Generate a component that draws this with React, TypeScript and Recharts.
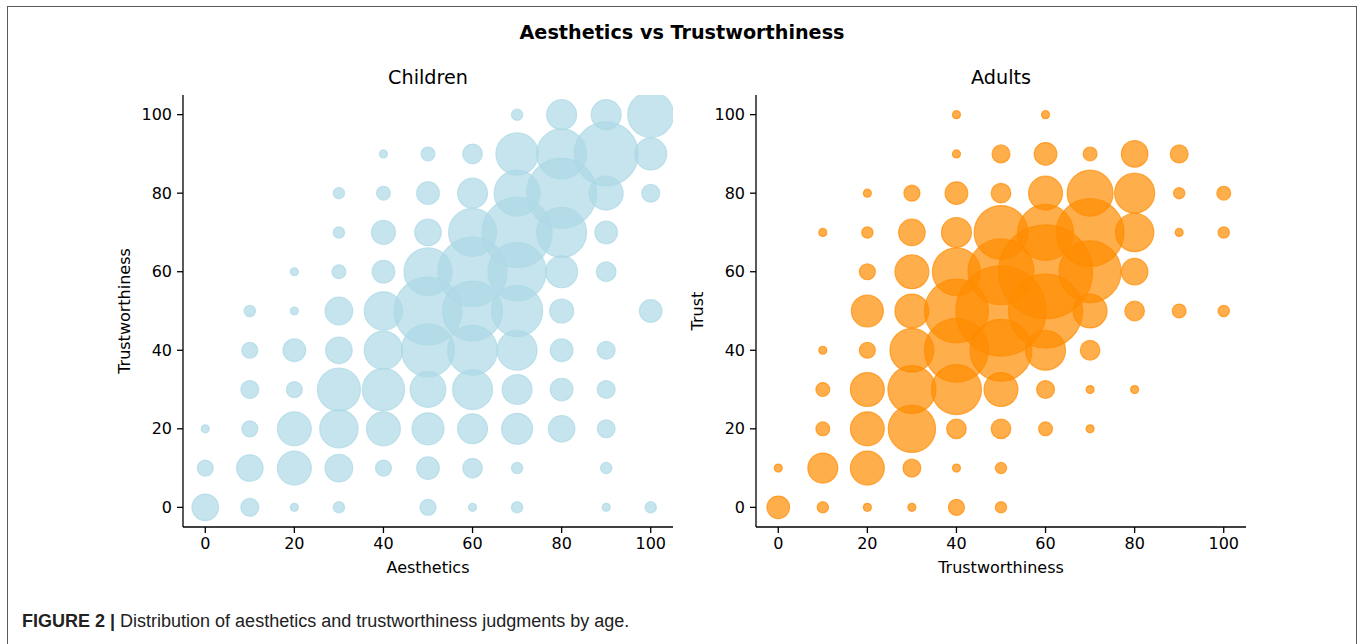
import React from 'react';
import { ScatterChart, Scatter, XAxis, YAxis, ZAxis } from 'recharts';

// Grid levels (0..100 step 10) on both axes
const levels = [0, 10, 20, 30, 40, 50, 60, 70, 80, 90, 100];
const tickValues = [0, 20, 40, 60, 80, 100];
const rowLevels = [100, 90, 80, 70, 60, 50, 40, 30, 20, 10, 0];

// Children: counts per (aesthetics x, trustworthiness y); rows from y=100 down to y=0
const childrenCounts: number[][] = [
  [0, 0, 0, 0, 0, 0, 0, 2, 14, 14, 33],
  [0, 0, 0, 0, 1, 3, 6, 28, 39, 64, 16],
  [0, 0, 0, 2, 3, 8, 14, 33, 77, 18, 5],
  [0, 0, 0, 2, 9, 11, 36, 77, 39, 8, 0],
  [0, 0, 1, 3, 8, 36, 75, 53, 16, 6, 0],
  [0, 2, 1, 12, 23, 72, 56, 41, 9, 0, 8],
  [0, 4, 8, 11, 23, 44, 39, 25, 8, 5, 0],
  [0, 5, 4, 29, 28, 20, 25, 14, 8, 5, 0],
  [1, 4, 18, 23, 18, 16, 14, 15, 11, 5, 0],
  [4, 11, 18, 12, 4, 8, 6, 2, 0, 2, 0],
  [11, 5, 1, 2, 0, 4, 1, 2, 0, 1, 2],
];

// Adults: counts per (trustworthiness x, trust y); rows from y=100 down to y=0
const adultsCounts: number[][] = [
  [0, 0, 0, 0, 1, 0, 1, 0, 0, 0, 0],
  [0, 0, 0, 0, 1, 5, 8, 3, 11, 5, 0],
  [0, 0, 1, 4, 8, 6, 18, 33, 25, 2, 3],
  [0, 1, 2, 11, 14, 45, 49, 72, 23, 1, 2],
  [0, 0, 4, 18, 36, 68, 138, 60, 11, 0, 0],
  [0, 0, 16, 18, 64, 127, 86, 18, 6, 3, 2],
  [0, 1, 4, 30, 64, 60, 25, 6, 0, 0, 0],
  [0, 3, 18, 36, 39, 18, 5, 1, 1, 0, 0],
  [0, 3, 18, 35, 6, 6, 3, 1, 0, 0, 0],
  [1, 14, 18, 5, 1, 2, 0, 0, 0, 0, 0],
  [8, 2, 1, 1, 4, 2, 0, 0, 0, 0, 0],
];

const toPoints = (m: number[][]) => {
  const pts: { x: number; y: number; n: number }[] = [];
  m.forEach((row, ri) => {
    row.forEach((n, ci) => {
      if (n > 0) pts.push({ x: levels[ci], y: rowLevels[ri], n });
    });
  });
  return pts;
};

const childrenData = toPoints(childrenCounts);
const adultsData = toPoints(adultsCounts);

const FONT = "'DejaVu Sans', sans-serif";
const Z_DOMAIN: [number, number] = [0, 150];
const Z_RANGE: [number, number] = [0, 150 * 16 * Math.PI];

const axisProps = {
  type: 'number' as const,
  domain: [-5, 105] as [number, number],
  ticks: tickValues,
  allowDataOverflow: true,
  tickSize: 6,
  axisLine: { stroke: '#000', strokeWidth: 1.3 },
  tickLine: { stroke: '#000', strokeWidth: 1.3 },
  tick: { fill: '#000', fontSize: 16, fontFamily: FONT },
  interval: 0 as const,
};

function Panel({ data, color, width, margin }: { data: any[]; color: string; width: number; margin: any }) {
  return (
    <ScatterChart width={width} height={600} margin={margin}>
      <XAxis dataKey="x" {...axisProps} height={30} tickMargin={5} />
      <YAxis dataKey="y" {...axisProps} width={60} tickMargin={5} />
      <ZAxis dataKey="n" type="number" domain={Z_DOMAIN} range={Z_RANGE} />
      <Scatter
        data={data}
        fill={color}
        fillOpacity={0.7}
        stroke={color}
        strokeOpacity={0.7}
        strokeWidth={1.2}
        isAnimationActive={false}
      />
    </ScatterChart>
  );
}

const textBase: React.CSSProperties = {
  position: 'absolute',
  fontFamily: FONT,
  color: '#000',
  whiteSpace: 'nowrap',
  lineHeight: 1,
  transform: 'translate(-50%, -50%)',
};

export default function App() {
  return (
    <div style={{ position: 'absolute', left: 0, top: 0, width: 1360, height: 644, background: '#fff', overflow: 'hidden' }}>
      <div
        style={{
          position: 'absolute',
          left: 7,
          top: 6,
          width: 1348,
          height: 660,
          borderTop: '1.5px solid #5a5a5a',
          borderLeft: '1.5px solid #5a5a5a',
          borderRight: '1.5px solid #5a5a5a',
        }}
      />
      <div style={{ position: 'absolute', left: 0, top: 0 }}>
        <Panel data={childrenData} color="#add8e6" width={700} margin={{ top: 95, right: 27, bottom: 43, left: 123 }} />
      </div>
      <div style={{ position: 'absolute', left: 680, top: 0 }}>
        <Panel data={adultsData} color="#ff8c00" width={680} margin={{ top: 95, right: 114, bottom: 43, left: 16 }} />
      </div>
      <div style={{ ...textBase, left: 682, top: 33, fontSize: 19.2, fontWeight: 'bold' }}>Aesthetics vs Trustworthiness</div>
      <div style={{ ...textBase, left: 428, top: 78, fontSize: 19.2 }}>Children</div>
      <div style={{ ...textBase, left: 1001, top: 78, fontSize: 19.2 }}>Adults</div>
      <div style={{ ...textBase, left: 428, top: 568, fontSize: 16 }}>Aesthetics</div>
      <div style={{ ...textBase, left: 1001, top: 568, fontSize: 16 }}>Trustworthiness</div>
      <div style={{ ...textBase, left: 125, top: 311, fontSize: 16, transform: 'translate(-50%, -50%) rotate(-90deg)' }}>Trustworthiness</div>
      <div style={{ ...textBase, left: 698, top: 311, fontSize: 16, transform: 'translate(-50%, -50%) rotate(-90deg)' }}>Trust</div>
      <div
        style={{
          position: 'absolute',
          left: 22,
          top: 621,
          transform: 'translateY(-50%)',
          fontFamily: "'Liberation Sans', Arial, sans-serif",
          fontSize: 18,
          color: '#222',
          whiteSpace: 'nowrap',
          lineHeight: 1,
        }}
      >
        <span style={{ fontWeight: 'bold' }}>FIGURE 2 |</span> Distribution of aesthetics and trustworthiness judgments by age.
      </div>
    </div>
  );
}
